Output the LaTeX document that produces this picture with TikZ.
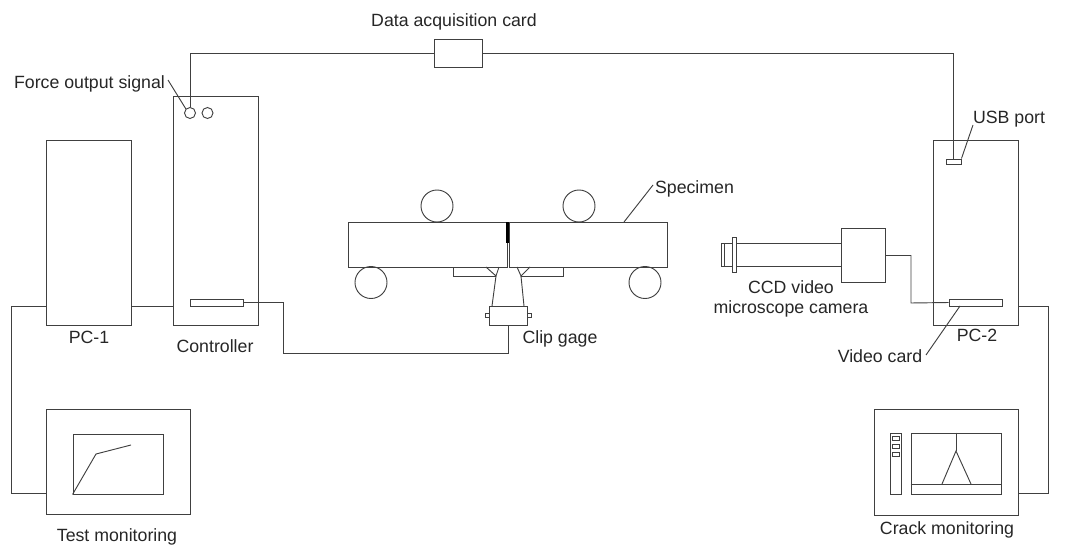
\documentclass[tikz,border=0pt]{standalone}
\usepackage{fontspec}
\setmainfont{Liberation Sans}
\usetikzlibrary{positioning,calc}

\def\u{0.75pt}
\tikzset{
  wire/.style={line width=0.7pt,draw=black!75},
  box/.style={wire,rectangle,inner sep=0pt,minimum width=#1},
  tall/.style={minimum height=#1*\u},
  roller/.style={wire,circle,inner sep=0pt,minimum size=32*\u},
  port/.style={wire,circle,inner sep=0pt,minimum size=11*\u},
  label/.style={inner sep=0pt,font=\fontsize{13.3pt}{14.3pt}\selectfont,text=black!85}
}

\begin{document}
\begin{tikzpicture}[x=\u,y=-\u]
  \useasboundingbox (0,0) rectangle (1068,546);

  % Computers and controller.
  \node[box=85*\u,tall=185] (pc1) at (88.5,232.5) {};
  \node[box=85*\u,tall=229] (ctrl) at (215.5,210.5) {};
  \node[box=85*\u,tall=185] (pc2) at (975.5,232.5) {};
  \node[port] (force) at (190,113) {};
  \node[port] (spare) at (207.5,113) {};
  \node[box=53*\u,tall=7] (ctrlcard) at (216.5,302.5) {};
  \node[box=15*\u,tall=5] (usb) at (953.5,161.5) {};
  \node[box=53*\u,tall=7] (videocard) at (975.5,302.5) {};
  \node[box=48*\u,tall=28] (daq) at (458,53) {};

  % Specimen and rollers.
  \node[box=159*\u,tall=45] (specl) at (427.5,244.5) {};
  \node[box=158*\u,tall=45] (specr) at (588,244.5) {};
  \draw[line width=2pt] (507.8,222) -- (507.8,243);
  \foreach \x/\y/\name in {437/206/rolla,579/206/rollb,371/282.5/rollc,645/282.5/rolld}{
    \node[roller] (\name) at (\x,\y) {};
  }

  % Clip gage.
  \node[box=38*\u,tall=19] (gage) at (508,315.5) {};
  \node[box=4*\u,tall=4] (gagel) at (487,315) {};
  \node[box=4*\u,tall=4] (gager) at (529,315) {};
  \coordinate (clipl) at (496,276);
  \coordinate (clipr) at (521,276);
  \draw[wire] (453,267) -- (453,276) -- (clipl);
  \draw[wire] (563,267) -- (563,276) -- (clipr);
  \draw[wire] (486,267) -- (clipl) -- (499,267);
  \draw[wire] (517,267) -- (clipr) -- (530,267);
  \draw[wire] (clipl) -- (492,306);
  \draw[wire] (clipr) -- (524,306);

  % Camera.
  \node[box=44*\u,tall=54] (head) at (863,255.5) {};
  \node[box=105*\u,tall=23] (tube) at (788.5,254.5) {};
  \node[box=4*\u,tall=35] (flange) at (734,254.5) {};
  \node[box=11*\u,tall=23] (cap) at (726.5,254.5) {};
  \draw[wire] (724,243) -- (724,266);

  % Test monitor.
  \node[box=144*\u,tall=105] (testmon) at (118,461.5) {};
  \node[box=90*\u,tall=60] (testscreen) at (118,464) {};
  \draw[wire] (testscreen.south west) -- (96,454) -- (131,445);

  % Crack monitor.
  \node[box=144*\u,tall=106] (crackmon) at (946,462) {};
  \node[box=90*\u,tall=61] (crackscreen) at (956,463.5) {};
  \node[box=11*\u,tall=61] (panel) at (895.5,463.5) {};
  \foreach \y in {438,446,454}{
    \node[box=7*\u,tall=4] at (895.5,\y) {};
  }
  \coordinate (tip) at (956,451);
  \draw[wire] (crackscreen.west |- 0,484) -- (crackscreen.east |- 0,484);
  \draw[wire] (crackscreen.north) -- (tip);
  \draw[wire] (942,484) -- (tip) -- (971,484);

  % Wiring.
  \coordinate (pcbus) at (11,306);
  \coordinate (crackbus) at (1048,306);
  \coordinate (gagebus) at (283,353);
  \draw[wire] (force.north) |- (daq.west);
  \draw[wire] (daq.east) -| (usb.north);
  \draw[wire] (pc1.west |- pcbus) -- (pcbus) |- (testmon.west |- 0,493);
  \draw[wire] (pc1.east |- pcbus) -- (ctrl.west |- pcbus);
  \draw[wire] (ctrlcard.east) -| (gagebus) -| (gage.south);
  \draw[wire] (head.east) -| (911,303) -- (videocard.west);
  \draw[wire] (pc2.east |- crackbus) -- (crackbus) |- (crackmon.east |- 0,493);

  % Labels and their leaders.
  \node[label] (daqtext) at (454,22) {Data acquisition card};
  \node[label] (forcetext) at (89.5,84) {Force output signal};
  \node[label] (usbtext) at (1009,119) {USB port};
  \node[label] (spectext) at (694.5,189) {Specimen};
  \node[label,align=center] (camtext) at (791,299) {CCD video\\[1.2pt]microscope camera};
  \node[label] (pc1text) at (89,337) {PC-1};
  \node[label] (ctrltext) at (215,346) {Controller};
  \node[label] (cliptext) at (560,339) {Clip gage};
  \node[label] (pc2text) at (977,335) {PC-2};
  \node[label] (videotext) at (880,356) {Video card};
  \node[label] (testtext) at (117,537) {Test monitoring};
  \node[label] (cracktext) at (947,530) {Crack monitoring};
  \draw[wire] (168,80) -- (force.north west);
  \draw[wire] (usb.north east) -- (973,125);
  \draw[wire] (624,222) -- (653,185);
  \draw[wire] (960,306) -- (926,355);
\end{tikzpicture}
\end{document}
